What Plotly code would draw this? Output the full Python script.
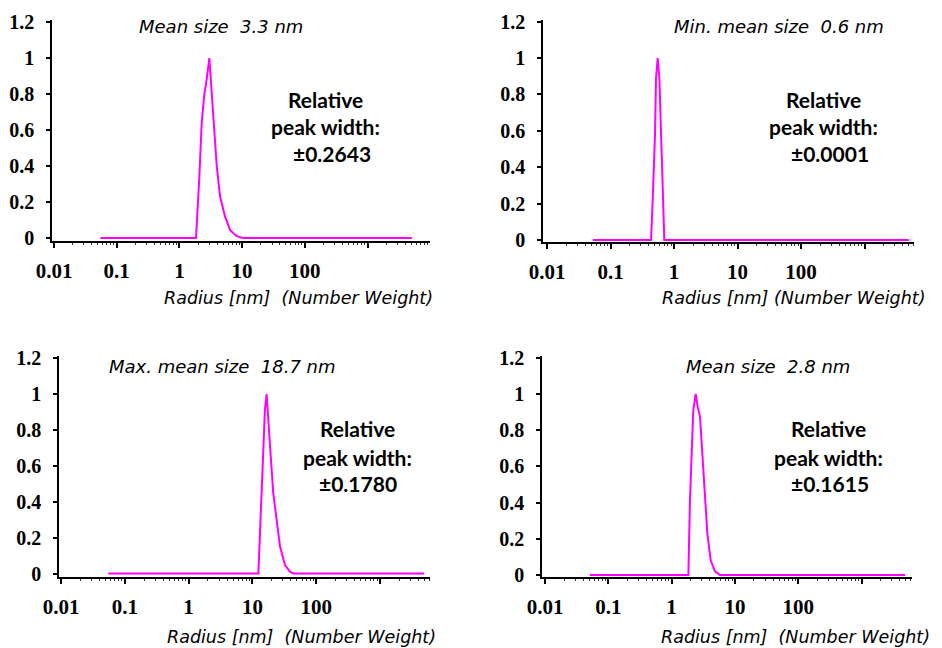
import plotly.graph_objects as go

REF_W, REF_H = 942, 648
OFF = 8                     # page body margin in the browser
W, H = REF_W - OFF, REF_H - OFF

# ---------------- data ----------------
r1 = [0.055, 1.84, 2.08, 2.27, 2.50, 2.72, 3.00, 3.16, 3.47, 3.94, 4.45, 5.34, 6.41, 8.20, 10.4, 5100]
v1 = [0, 0, 0.34, 0.64, 0.80, 0.88, 1.0, 0.88, 0.64, 0.40, 0.23, 0.12, 0.045, 0.01, 0, 0]

r2 = [0.053, 0.435, 0.462, 0.502, 0.521, 0.553, 0.588, 0.618, 0.664, 0.703, 5000]
v2 = [0, 0, 0.22, 0.58, 0.89, 1.0, 0.89, 0.58, 0.29, 0, 0]

r3 = [0.055, 12.4, 13.2, 14.0, 14.8, 15.7, 16.7, 17.7, 18.9, 21.2, 24.0, 27.1, 32.4, 38.8, 43.8, 4900]
v3 = [0, 0, 0.24, 0.47, 0.71, 0.91, 1.0, 0.88, 0.71, 0.45, 0.28, 0.15, 0.047, 0.01, 0, 0]

r4 = [0.051, 1.84, 1.95, 2.08, 2.20, 2.40, 2.58, 2.81, 3.06, 3.37, 3.67, 4.15, 4.85, 5.82, 4900]
v4 = [0, 0, 0.41, 0.71, 0.91, 1.0, 0.93, 0.875, 0.67, 0.43, 0.23, 0.08, 0.02, 0, 0]

titles = ["Mean size\u00a0\u00a03.3 nm", "Min. mean size\u00a0\u00a00.6 nm",
          "Max. mean size\u00a0\u00a018.7 nm", "Mean size\u00a0\u00a02.8 nm"]
widths = ["\u00b10.2643", "\u00b10.0001", "\u00b10.1780", "\u00b10.1615"]
xtitles = ["Radius [nm]\u00a0\u00a0(Number Weight)", "Radius [nm] (Number Weight)",
           "Radius [nm]\u00a0\u00a0(Number Weight)", "Radius [nm]\u00a0\u00a0(Number Weight)"]
x_tickvals = [0.01, 0.1, 1, 10, 100, 1000]
x_ticktext = ["0.01", "0.1", "1", "10", "100", ""]
y_tickvals = [0, 0.2, 0.4, 0.6, 0.8, 1.0, 1.2]
y_ticktext = ["0", "0.2", "0.4", "0.6", "0.8", "1", "1.2"]

series = [(r1, v1), (r2, v2), (r3, v3), (r4, v4)]

# ---------------- layout geometry (reference pixels) ----------------
# yaxis_x, x_at_0.01, decade_px, x_end, xaxis_y, y_at_0, px_per_unit, y_top
geo = [
    (52, 54, 62.7, 430, 241, 238.0, 180.0, 20),
    (543, 547, 63.5, 914, 242, 240.0, 182.0, 20),
    (59, 61, 63.8, 430, 577, 573.5, 179.5, 356),
    (542, 545, 63.3, 912, 577, 575.0, 181.0, 356),
]
# title (cx, cy), annotation lines (cx, [y1,y2,y3], cx3), axis title (left, cy)
tpos = [
    ((221, 27), (325, [99, 127, 153], 332), (162, 298)),
    ((779, 27), (823, [99, 127, 153], 830), (660, 298)),
    ((222, 366), (357, [428, 457, 483], 358), (165, 637)),
    ((768, 366), (828, [428, 457, 483], 830), (659, 637)),
]

fig = go.Figure()
layout = {}
annotations = []


def px(x):
    return (x - OFF) / W


def py(y):
    return 1 - (y - OFF) / H


tick_font_y = dict(family="Liberation Serif", size=20, color="black", weight="bold")
tick_font_x = dict(family="Liberation Serif", size=21, color="black", weight="bold")

for i, ((rx, vy), g, tp) in enumerate(zip(series, geo, tpos)):
    yax_x, x001, dec, xend, xax_y, y0, s, ytop = g
    n = "" if i == 0 else str(i + 1)
    fig.add_trace(go.Scatter(x=rx, y=vy, mode="lines",
                             line=dict(color="#ff00ff", width=2),
                             xaxis="x" + n, yaxis="y" + n, showlegend=False,
                             hoverinfo="skip"))
    xr = [-2 - (x001 - yax_x) / dec, -2 + (xend - x001) / dec]
    yr = [-(xax_y - y0) / s, (y0 - ytop) / s]
    layout["xaxis" + n] = dict(
        type="log", range=xr, domain=[px(yax_x), px(xend)],
        anchor="y" + n, showgrid=False, zeroline=False, automargin=False,
        showline=True, linecolor="black", linewidth=1.5,
        ticks="outside", ticklen=5, tickwidth=1.5, tickcolor="black",
        tickvals=x_tickvals, ticktext=x_ticktext, tickfont=tick_font_x,
        ticklabelstandoff=5,
        minor=dict(ticks="outside", ticklen=2, tickwidth=1, tickcolor="#333",
                   tickvals=[m * 10 ** e for e in range(-2, 4) for m in range(2, 10)]),
        fixedrange=True,
    )
    layout["yaxis" + n] = dict(
        range=yr, domain=[py(xax_y), py(ytop)],
        anchor="x" + n, showgrid=False, zeroline=False, automargin=False,
        showline=True, linecolor="black", linewidth=1.5,
        ticks="outside", ticklen=4, tickwidth=1.5, tickcolor="black",
        tickvals=y_tickvals, ticktext=y_ticktext, tickfont=tick_font_y,
        ticklabelstandoff=8, fixedrange=True,
    )
    (tcx, tcy), (acx, ays, acx3), (axl, axy) = tp
    annotations.append(dict(text="<i>" + titles[i] + "</i>", x=px(tcx), y=py(tcy),
                            xref="paper", yref="paper", xanchor="center", yanchor="middle",
                            showarrow=False,
                            font=dict(family="DejaVu Sans", size=18, color="black")))
    for txt, yy, cx in zip(["Relative", "peak width:", widths[i]], ays, [acx, acx, acx3]):
        annotations.append(dict(text="<b>" + txt + "</b>", x=px(cx), y=py(yy),
                                xref="paper", yref="paper", xanchor="center", yanchor="middle",
                                showarrow=False,
                                font=dict(family="Lato", size=21, color="black")))
    annotations.append(dict(text="<i>" + xtitles[i] + "</i>", x=px(axl), y=py(axy),
                            xref="paper", yref="paper", xanchor="left", yanchor="middle",
                            showarrow=False,
                            font=dict(family="DejaVu Sans", size=17.5, color="black")))

fig.update_layout(width=W, height=H,
                  margin=dict(l=0, r=0, t=0, b=0, pad=0, autoexpand=False),
                  paper_bgcolor="white", plot_bgcolor="white",
                  annotations=annotations, **layout)

fig.write_html("out.html")
